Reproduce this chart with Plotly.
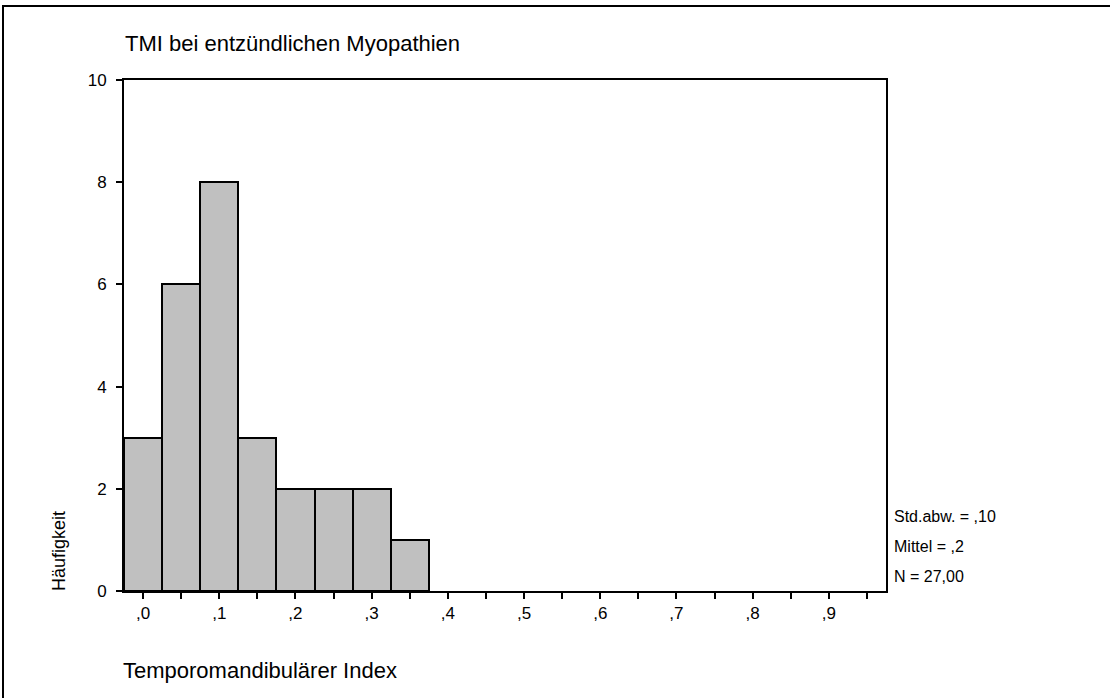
import plotly.graph_objects as go

# Data
bin_centers = [0.0, 0.05, 0.10, 0.15, 0.20, 0.25, 0.30, 0.35]
counts = [3, 6, 8, 3, 2, 2, 2, 1]
bin_width = 0.05

x_tick_vals = [round(i * 0.05, 2) for i in range(20)]
x_tick_text = [",%d" % (i // 2) if i % 2 == 0 else "" for i in range(20)]
y_tick_vals = [0, 2, 4, 6, 8, 10]

title_text = "TMI bei entzündlichen Myopathien"
x_title = "Temporomandibulärer Index"
y_title = "Häufigkeit"
stats_lines = ["Std.abw. = ,10", "Mittel = ,2", "N = 27,00"]

FONT = "Arial, 'Liberation Sans', sans-serif"

W, H = 1110, 698
L, R, T, B = 124, 224, 80, 107
pw, ph = W - L - R, H - T - B


def px_x(px):
    return (px - L) / pw


def px_y(py):
    return (H - B - py) / ph


fig = go.Figure()
fig.add_trace(go.Bar(
    x=bin_centers, y=counts, width=[bin_width] * len(counts),
    marker=dict(color="rgb(192,192,192)", line=dict(color="black", width=2)),
    hoverinfo="skip", showlegend=False,
))

fig.update_layout(
    width=W, height=H,
    margin=dict(l=L, r=R, t=T, b=B, pad=0),
    paper_bgcolor="white", plot_bgcolor="white",
    font=dict(family=FONT, size=16, color="black"),
    bargap=0,
    showlegend=False,
)

fig.update_xaxes(
    range=[-0.025, 0.975], tickvals=x_tick_vals, ticktext=x_tick_text,
    ticks="outside", ticklen=6, tickwidth=2, tickcolor="black",
    showline=True, linewidth=2, linecolor="black", mirror=True,
    showgrid=False, zeroline=False, tickfont=dict(size=17),
)
fig.update_yaxes(
    range=[0, 10], tickvals=y_tick_vals,
    ticks="outside", ticklen=6, tickwidth=2, tickcolor="black",
    showline=True, linewidth=2, linecolor="black", mirror=True,
    showgrid=False, zeroline=False, tickfont=dict(size=17),
    ticklabelstandoff=6,
)

annotations = [
    dict(text=title_text, x=px_x(123), y=px_y(43), xanchor="left", yanchor="middle",
         font=dict(size=22)),
    dict(text=x_title, x=px_x(121), y=px_y(670), xanchor="left", yanchor="middle",
         font=dict(size=22)),
    dict(text=y_title, x=px_x(59), y=px_y(551), xanchor="center", yanchor="middle",
         textangle=-90, font=dict(size=18)),
]
for txt, py in zip(stats_lines, [516, 546, 576]):
    annotations.append(dict(text=txt, x=px_x(892), y=px_y(py), xanchor="left",
                            yanchor="middle", font=dict(size=16)))
for a in annotations:
    a.update(xref="paper", yref="paper", showarrow=False)
fig.update_layout(annotations=annotations)

# outer frame (extends beyond right and bottom edges as in the reference)
fig.add_shape(type="rect", xref="paper", yref="paper",
              x0=px_x(3), x1=px_x(W + 20), y0=px_y(H + 20), y1=px_y(6),
              line=dict(color="black", width=2), fillcolor="rgba(0,0,0,0)", layer="below")

fig.write_html("out.html", config={"displayModeBar": False},
               post_script="document.body.style.margin='0px';")
